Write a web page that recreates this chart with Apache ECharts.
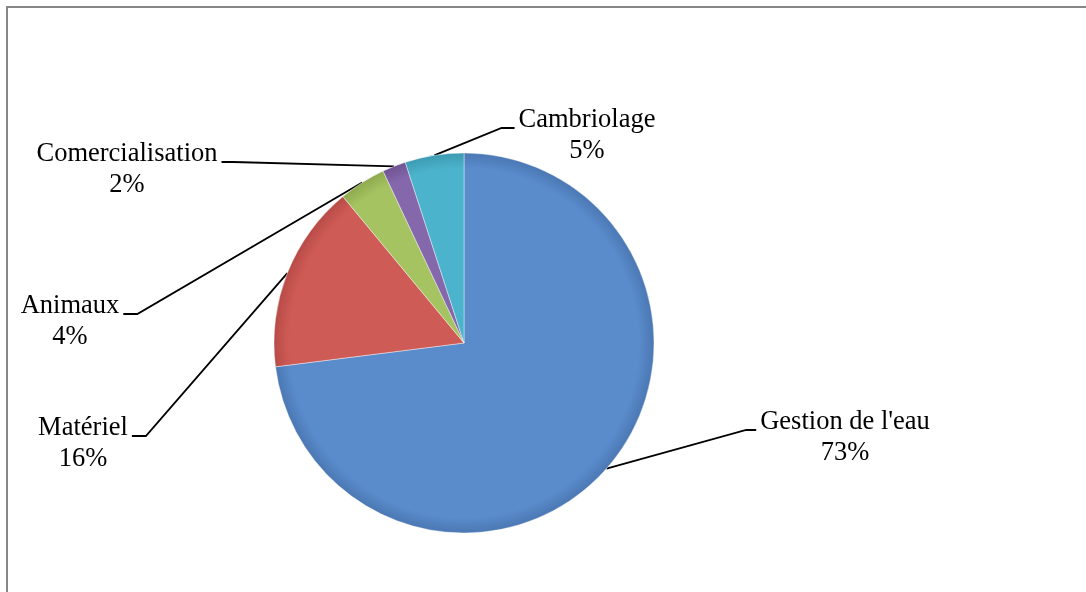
<!DOCTYPE html>
<html>
<head>
<meta charset="utf-8">
<script src="https://cdn.jsdelivr.net/npm/echarts@6/dist/echarts.min.js"></script>
<style>
  html, body { margin: 0; padding: 0; background: #ffffff; }
  #chart { width: 1086px; height: 592px; }
</style>
</head>
<body>
<div id="chart"></div>
<script>
// ---- data ----
const categories = ["Gestion de l'eau", "Matériel", "Animaux", "Comercialisation", "Cambriolage"];
const values = [73, 16, 4, 2, 5];

// ---- styles / layout (not data) ----
const baseColors = ['#5A8BCB', '#CF5B56', '#A6C361', '#8567AB', '#4BB3CC'];
const rimColors  = ['#4B78B4', '#B84B47', '#8EAA4E', '#6F5494', '#3E9BB2'];
const pieCenter = [464, 343];
const pieRadius = 190;
// label placement: x = text centre, y = centre of first text line, side = side where the leader meets the text, arm = horizontal leader part
const labelSpots = [
  { x: 845, y: 422, side: 'left',  arm: 10 },
  { x: 83,  y: 428, side: 'right', arm: 14 },
  { x: 70,  y: 306, side: 'right', arm: 14 },
  { x: 127, y: 154, side: 'right', arm: 12 },
  { x: 587, y: 120, side: 'left',  arm: 13 }
];
const fontSize = 26.5;
const lineH = 31;

const chart = echarts.init(document.getElementById('chart'), null, { renderer: 'canvas' });

const seriesData = categories.map(function (name, i) {
  return {
    name: name,
    value: values[i],
    itemStyle: {
      color: {
        type: 'radial', x: pieCenter[0], y: pieCenter[1], r: pieRadius, global: true,
        colorStops: [
          { offset: 0, color: baseColors[i] },
          { offset: 0.92, color: baseColors[i] },
          { offset: 1, color: rimColors[i] }
        ]
      }
    }
  };
});

chart.setOption({
  backgroundColor: '#ffffff',
  animation: false,
  graphic: [{
    type: 'rect',
    silent: true,
    shape: { x: 7, y: 7, width: 1100, height: 620 },
    style: { fill: 'none', stroke: '#878787', lineWidth: 2 }
  }],
  series: [{
    type: 'pie',
    center: pieCenter,
    radius: pieRadius,
    startAngle: 90,
    clockwise: true,
    avoidLabelOverlap: false,
    emphasis: { disabled: true },
    itemStyle: { borderColor: 'rgba(255,255,255,0.5)', borderWidth: 0.8 },
    label: {
      show: true,
      position: 'outside',
      formatter: function (p) { return p.name + '\n' + Math.round(p.percent) + '%'; },
      fontFamily: 'Liberation Serif',
      fontSize: fontSize,
      lineHeight: lineH,
      color: '#000000',
      align: 'center'
    },
    labelLine: {
      show: true,
      length: 20,
      length2: 10,
      lineStyle: { color: '#000000', width: 1.8 }
    },
    labelLayout: function (p) {
      const s = labelSpots[p.dataIndex];
      const w = p.labelRect.width;
      let anchor = p.labelLinePoints ? p.labelLinePoints[0] : null;
      if (!anchor) { anchor = [s.x, s.y]; }
      const lineY = s.y + 8;
      const endX = s.side === 'left' ? s.x - w / 2 - 4 : s.x + w / 2 + 4;
      const elbowX = s.side === 'left' ? endX - s.arm : endX + s.arm;
      return {
        x: s.x,
        y: s.y - lineH / 2,
        align: 'center',
        verticalAlign: 'top',
        labelLinePoints: [anchor, [elbowX, lineY], [endX, lineY]]
      };
    },
    data: seriesData
  }]
});
</script>
</body>
</html>
